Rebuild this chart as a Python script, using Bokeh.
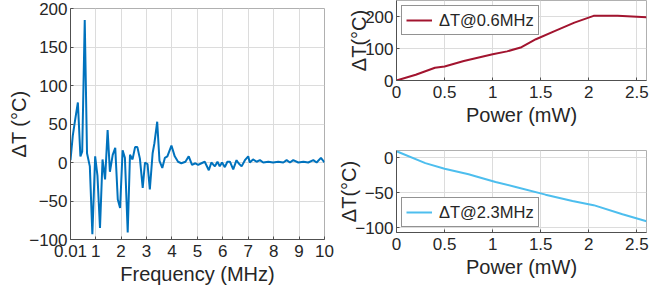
from bokeh.plotting import figure
from bokeh.layouts import row, column
from bokeh.models import FixedTicker, Range1d
from bokeh.embed import file_html
from bokeh.resources import INLINE

# ---- data ----
freq_mhz = [0.01, 0.1, 0.2, 0.3, 0.4, 0.47, 0.57, 0.66, 0.77, 0.87, 0.98, 1.07, 1.17, 1.27, 1.37,
            1.47, 1.56, 1.67, 1.77, 1.87, 1.96, 2.06, 2.15, 2.26, 2.35, 2.45, 2.55, 2.64, 2.74,
            2.85, 2.94, 3.04, 3.13, 3.24, 3.31, 3.42, 3.51, 3.62, 3.72, 3.82, 3.98, 4.11, 4.24,
            4.37, 4.53, 4.66, 4.79, 4.92, 5.03, 5.16, 5.29, 5.45, 5.55, 5.69, 5.79, 5.88, 5.97,
            6.08, 6.18, 6.28, 6.41, 6.54, 6.62, 6.74, 6.87, 7.0, 7.06, 7.19, 7.33, 7.46, 7.59,
            7.79, 7.98, 8.18, 8.38, 8.51, 8.64, 8.77, 8.97, 9.17, 9.36, 9.56, 9.69, 9.86, 10.0]
dT_freq = [3, 35, 57, 78, 8, 14, 185, 12, -5, -93, 8, -17, -85, 4, -22,
           42, -12, 10, 19, -48, -59, 16, 6, -91, 10, 4, 20, 20, 5,
           -33, 0, -2, -35, 12, 25, 53, 2, -7, 6, 8, 22, 8, 1,
           -1, 1, 8, -3, -1, -3, -1, 1, -10, 0, -5, 1, -5, 0,
           -6, 1, 1, -9, 3, -1, -5, 3, 8, 0, 4, 1, 3, 0,
           1, 0, 1, 0, 3, 0, 3, 0, 1, 0, 3, 0, 6, 0]
freq_ticks = [0.01, 1, 2, 3, 4, 5, 6, 7, 8, 9, 10]

power_06 = [0, 0.2, 0.4, 0.5, 0.7, 1.0, 1.15, 1.3, 1.45, 1.65, 1.85, 2.05, 2.3, 2.6]
dT_06 = [0, 18, 40, 44, 61, 82, 91, 104, 129, 155, 181, 202, 202, 198]

power_23 = [0, 0.3, 0.5, 0.75, 0.83, 1.03, 1.24, 1.55, 1.83, 2.05, 2.35, 2.6]
dT_23 = [9, -8, -16, -24, -27, -35, -42, -53, -62, -68, -81, -91]

power_ticks = [0, 0.5, 1, 1.5, 2, 2.5]

FONT = "Liberation Sans"
AX = "#262626"
GRID = "#dcdcdc"


def style(p, xticks, yticks, xlabel, ylabel, ylabel_standoff):
    p.xaxis.ticker = FixedTicker(ticks=xticks)
    p.yaxis.ticker = FixedTicker(ticks=yticks)
    p.xaxis.axis_label = xlabel
    p.yaxis.axis_label = ylabel
    for ax in (p.xaxis, p.yaxis):
        ax.axis_label_text_font = FONT
        ax.axis_label_text_font_size = "20px"
        ax.axis_label_text_font_style = "normal"
        ax.axis_label_text_color = AX
        ax.major_label_text_font = FONT
        ax.major_label_text_font_size = "17px"
        ax.major_label_text_color = AX
        ax.axis_line_color = "#505050"
        ax.major_tick_line_color = "#505050"
        ax.major_tick_in = 3
        ax.major_tick_out = 0
        ax.minor_tick_line_color = None
    p.xaxis.major_label_standoff = 5
    p.yaxis.major_label_standoff = 3
    p.xaxis.axis_label_standoff = 3
    p.yaxis.axis_label_standoff = ylabel_standoff
    p.grid.grid_line_color = GRID
    p.grid.grid_line_width = 1
    p.outline_line_color = "#b0b0b0"
    p.background_fill_color = "white"
    p.border_fill_color = "white"


# ---- left: frequency sweep ----
p1 = figure(frame_width=254, frame_height=231, output_backend="svg", toolbar_location=None,
            x_range=Range1d(0.01, 10), y_range=Range1d(-100, 200),
            min_border_left=70, min_border_right=11, min_border_top=8, min_border_bottom=45)
p1.line(freq_mhz, dT_freq, line_color="#0072BD", line_width=2)
style(p1, freq_ticks, [-100, -50, 0, 50, 100, 150, 200], "Frequency (MHz)", "ΔT (°C)", -4)
p1.xaxis.major_label_overrides = {0.01: "0.01"}

# ---- right top: 0.6 MHz ----
p2 = figure(frame_width=250, frame_height=80, output_backend="svg", toolbar_location=None,
            x_range=Range1d(0, 2.6), y_range=Range1d(0, 250),
            min_border_left=59, min_border_right=16, min_border_top=0, min_border_bottom=52)
p2.line(power_06, dT_06, line_color="#A2142F", line_width=2, legend_label="ΔT@0.6MHz")
style(p2, power_ticks, [0, 100, 200], "Power (mW)", "ΔT(°C)", -8)

# ---- right bottom: 2.3 MHz ----
p3 = figure(frame_width=250, frame_height=82, output_backend="svg", toolbar_location=None,
            x_range=Range1d(0, 2.6), y_range=Range1d(-107, 10),
            min_border_left=59, min_border_right=16, min_border_top=18, min_border_bottom=52)
p3.line(power_23, dT_23, line_color="#4DBEEE", line_width=2, legend_label="ΔT@2.3MHz")
style(p3, power_ticks, [-100, -50, 0], "Power (mW)", "ΔT(°C)", -8)

for p, loc in ((p2, "top_left"), (p3, "bottom_left")):
    lg = p.legend[0]
    lg.location = loc
    lg.margin = 5
    lg.padding = 4
    lg.spacing = 0
    lg.glyph_width = 26
    lg.label_standoff = 7
    lg.label_text_font = FONT
    lg.label_text_font_size = "16.5px"
    lg.label_text_color = AX
    lg.border_line_color = AX
    lg.border_line_width = 1
    lg.background_fill_alpha = 1.0

layout = row(p1, column(p2, p3))

open("out.html", "w").write(file_html(layout, INLINE))
